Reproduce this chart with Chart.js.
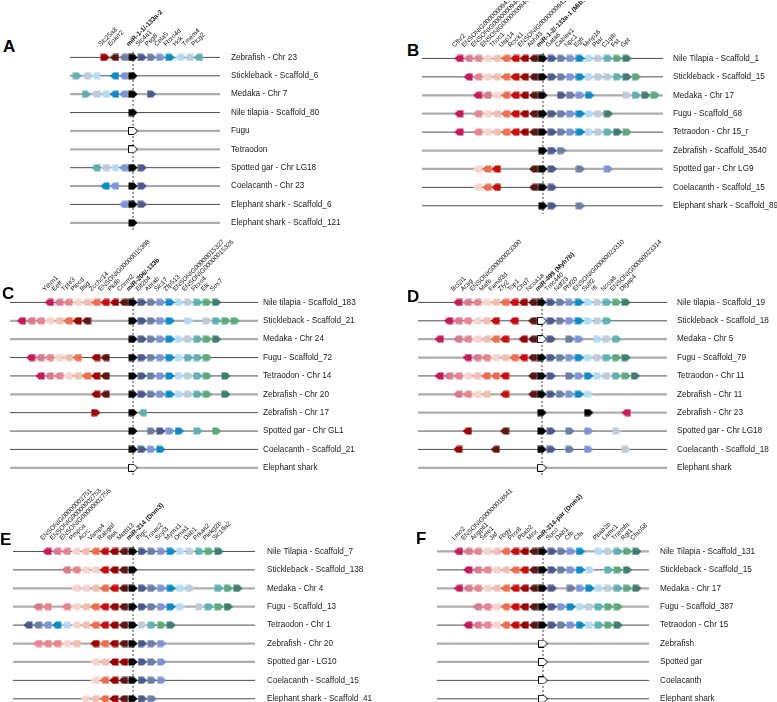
<!DOCTYPE html>
<html><head><meta charset="utf-8">
<script src="https://cdn.jsdelivr.net/npm/chart.js@4.4.1/dist/chart.umd.min.js"></script>
<style>
html,body{margin:0;padding:0;background:#fff}
body{width:777px;height:702px;overflow:hidden;position:relative;font-family:"Liberation Sans",Arial,Helvetica,sans-serif}
canvas{position:absolute}
.letter{position:absolute;font-weight:bold;font-size:17px;line-height:17px;color:#000}
</style></head><body>
<script>
// ---------------- DATA ----------------
// gene tokens: "<slot><colour>"  lowercase = arrow points right, uppercase = arrow points left
// colours a..i = left-side (red) genes, j..r = right-side (blue/green) genes, x = miRNA host (black), w = missing (white)
const speciesA = ["Zebrafish - Chr 23","Stickleback - Scaffold_6","Medaka - Chr 7","Nile tilapia - Scaffold_80","Fugu","Tetraodon","Spotted gar - Chr LG18","Coelacanth - Chr 23","Elephant shark - Scaffold_6","Elephant shark - Scaffold_121"];
const backboneA = "ddldlldddl";
const namesA = ["Slc25a8","Eoarr2","","miR-1-1/-133a-2","Slc4a1","Psg8","Cela5","Fbxo4d","Hck","Tmem4","Plcg2"];
const genesA = [
 "-3h -2I -1K 0x 1j 2k 3l 4m 5N 6O 7P",
 "-6p -5O -4N -2M -1L 0x",
 "-5p -4O -3N -2M -1L 0x 2j",
 "0x",
 "0w",
 "0w",
 "-4P -3O -2N -1L 0x 1j",
 "-3M -2L 0x 1j",
 "-1L 0x 1j",
 "0x"
];

const speciesB = ["Nile Tilapia - Scaffold_1","Stickleback - Scaffold_15","Medaka - Chr 17","Fugu - Scaffold_68","Tetraodon - Chr 15_r","Zebrafish - Scaffold_3540","Spotted gar - Chr LG9","Coelacanth - Scaffold_15","Elephant shark - Scaffold_89"];
const backboneB = "ddlldlldd";
const namesB = ["Cfhr2","ENSONIG00000009453","ENSONIG00000009446","ENSONIG00000009444","Thoc1","Usp14","Rock1","ENSONIG00000009411","Abhd3","miR-1-2/-133a-1 (Mib1)","Gata6","Cables1","Npc1","Egfr","Mmp16","Ptar","C1qtb","Fst","Gpt"];
const genesB = [
 "-9A -8B -7C -6D -5E -4F -3G -2H -1I 0x 1j 2k 3l 4m 5n 6o 7p 8q 9r",
 "-8A -7C -6D -5E -4F -3G -2H -1I 0x 1j 2k 3l 4m 5n 6o 7o 8p 9r 10q",
 "-7A -6B -5D -4F -3G -2H -1I 0x 2j 3k 4l 5m 9o 10p 11r 12q",
 "-9A -7C -6D -5E -4F -3G -2H -1I 0x 1j 2k 3l 4m 5n 6o 7r",
 "-9A -7C -6D -5E -4F -3G -2H -1I 0x 1j 2k 3l 4m 5n 6o 7p 8r 9q",
 "0x 1j 2k",
 "-7D -6F -5G -1I 0x 1j 4k 7l",
 "-7D -6F -5G -1I 0x 1j",
 "0x 1j 4k"
];

const speciesC = ["Nile tilapia - Scaffold_183","Stickleback - Scaffold_21","Medaka - Chr 24","Fugu - Scaffold_72","Tetraodon - Chr 14","Zebrafish - Chr 20","Zebrafish - Chr 17","Spotted gar - Chr GL1","Coelacanth - Scaffold_21","Elephant shark"];
const backboneC = "dllddldddl";
const namesC = ["Ythm1","Eeff","Tpte3","Plecd","Bsg","Zcchc14","ENSONIG00000015398","Pkdb","Cnnm2","miR-206/-133b","Eif2b4","Abrab","Slc17","Zfp513","ENSONIG00000015327","ENSONIG00000015326","Fbxo4","Elk","Sox7"];
const genesC = [
 "-9A -8B -7C -6D -5E -4F -3G -2H -1I 0x 1j 2k 3l 4m 5n 6o 7p 8q 9r",
 "-12A -11B -10C -9D -8E -7F -6H -5I 0x 1j 2k 3l 4m 6n 8o 9p 10q 11q",
 "0x 1j 2k 3l 4m 5n 6o 7p 8q 9r",
 "-11A -10B -9C -8D -7E -6F -4H -3I 0x 1j 2k 3l 4m 5n 6p 7p 8q",
 "-10A -9B -8C -7D -6E -5F -4H -3I 0x 1j 2k 3l 4m 5n 6o 7p 8q 10r",
 "-4H -3I 0x 1j 2k 3l 4m 5n 6o 7p 8q 10r",
 "-4h 0x 1P",
 "0x 2k 3j 4l 5m 7p 9q",
 "0x 1j 2l 3m",
 "0w"
];

const speciesD = ["Nile tilapia - Scaffold_19","Stickleback - Scaffold_18","Medaka - Chr 5","Fugu - Scaffold_79","Tetraodon - Chr 11","Zebrafish - Chr 11","Zebrafish - Chr 23","Spotted gar - Chr LG18","Coelacanth - Scaffold_18","Elephant shark"];
const backboneD = "ddlldllddl";
const namesD = ["Bcl2l1","Acsg","ENSONIG00000023300","Mafb","Fam83d","Zfy2","Top1","Chd7","Ncoa1a","miR-499 (Myh7b)","Tmc440","Ndf23","Phf20","ENSONIG00000023310","Sulf2","Ift","Ncoa6","ENSONIG00000023314","Dlgap4"];
const genesD = [
 "-9A -8B -7C -6D -5E -4F -3G -2H -1I 0x 1j 2k 3l 4m 5n 6o 7p 8q 9r",
 "-10A -9B -8C -7D -6E -5G -3G -1I 0w 1j 2k 3l 4m 5n 6o 7p",
 "-11A -9B -8C -7D -6E -5F -4G -2H -1I 0w 1j 3k 4l 6n 7o 8p",
 "-8A -7B -6C -5D -4E -3F -2G -1I 0x 1j 2k 3l 4m 5n 6o 7p 8q 9r",
 "-11A -10B -9C -8D -7E -6F -5F -4G -1I 0x 1j 3k 4l 5m 6n 7o 8p 9q 10r",
 "-9B -8C -7D -6E -4G -1I 0x 1j 2k 3l 4m 5n",
 "0x 5x 9A",
 "-8H -4I 0x 1j 3k 5l 8o",
 "-9H -5I 0x 1j 3k 5l 9o",
 "0w"
];

const speciesE = ["Nile Tilapia - Scaffold_7","Stickleback - Scaffold_138","Medaka - Chr 4","Fugu - Scaffold_13","Tetraodon - Chr 1","Zebrafish - Chr 20","Spotted gar - LG10","Coelacanth - Scaffold_15","Elephant shark - Scaffold_41"];
const backboneE = "ddlldlldd";
const namesE = ["ENSONIG00000002751","ENSONIG00000002753","ENSONIG00000002756","Pmpca","Acrc","Vamp4","Rabgaf","Bsa","Mettl13","miR-214 (Dnm3)","Pigc","Tnnac2","Scyl3","Mymx1","Oma1","Dab1","Prkaa2","Plekg2b","Slc19a2"];
const genesE = [
 "-9A -8B -7C -6D -5E -4F -3G -2H -1I 0x 1j 2k 3l 4m 5n 6o 7p 8q 9r",
 "-7B -6C -5D -4D -3G -2H -1I 0x",
 "-6D -5D -4E -3F -2G -1I 0x 1j 2k 3l 4m 5n 6o 9p 10q 11r",
 "-10B -9C -7C -6D -5E -4F -3G -2H -1I 0x 1j 2k 3l 4m 5n 7o 8p 9q 10r",
 "-11J -10K -9L -8M -7N -6D -5E -4F -3G -2H -1I 0x 1o 2p 3q 4r",
 "-10C -9C -8C -7D -6E -4H -3F -2H -1I 0x 1j 2k 3l",
 "-4D -3E -2H -1H 0x 1j 2k 3l",
 "-4D -3F -2H -1I 0x 1j 2k 3l",
 "-5D -4E -3F -2H -1I 0x 1j 2k"
];

const speciesF = ["Nile Tilapia - Scaffold_131","Stickleback - Scaffold_15","Medaka - Chr 17","Fugu - Scaffold_387","Tetraodon - Chr 15","Zebrafish","Spotted gar","Coelacanth","Elephant shark"];
const backboneF = "ldlldlldd";
const namesF = ["Lmo2","ENSONIG00000018641","Angptl1","Sele1","Jaf","Fbgy","Prrx8","Pbab2","Mnx","miR-214-par (Dnm3)","Suco","Dab1","Cfb","Cfa","Pbab2b","Lamc1","Tnemfa","Rgl1","Cfan58"];
const genesF = [
 "-9A -8B -7C -6D -5E -4F -3G -2H -1I 0x 1j 2k 3l 4m 6n 7o 8p 9q 10r",
 "-8A -7B -6C -5D -4E -3F -2G -1I 0x 1j 2k 3l 4m 5n 7p 8q 9r",
 "-9A -8B -7C -6D -5E -4F -3G -2H -1I 0x 1j 3k 4l 5m 6n 7o 8p 9q 10r",
 "-7B -6C -5D -4F -3G -2H -1I 0x 1j 2l 3m 4n 5o 6p 7q 8q",
 "-8A -7B -6C -5D -4F -3G -2H -1I 0x 1j 2k 3l 4m 5n 6p 7q 8r",
 "0w","0w","0w","0w"
];

// ---------------- STYLE / LAYOUT ----------------
const FONT = '"Liberation Sans", Arial, Helvetica, sans-serif';
const COLORS = {a:'#c8185a', b:'#d87a8c', c:'#e8848e', d:'#f6d3cc', e:'#f1bfb2', f:'#ef6d4e', g:'#cc0a0a', h:'#9c0000', i:'#5c1612',
  j:'#4b5a8a', k:'#6b7ea3', l:'#7c94d6', m:'#0a8bc6', n:'#b2dcf1', o:'#bdccd9', p:'#5fb0b3', q:'#5ca97b', r:'#3e7d6f', x:'#000000', w:'#ffffff'};
const RS = 18.4;   // row spacing px
const RW = 150;    // right label area
const panels = [
 {id:'A', species:speciesA, genes:genesA, backbone:backboneA, names:namesA, geo:{center:133, start:70, end:220, px:9.3, row0:57.5, gap:11, H:51, lx:3, ly:38}},
 {id:'B', species:speciesB, genes:genesB, backbone:backboneB, names:namesB, geo:{center:543, start:422, end:663, px:9.35, row0:58, gap:10, H:51, lx:407, ly:42}},
 {id:'C', species:speciesC, genes:genesC, backbone:backboneC, names:namesC, geo:{center:133, start:10, end:258, px:9.3, row0:302, gap:5, H:80, lx:2, ly:285}},
 {id:'D', species:speciesD, genes:genesD, backbone:backboneD, names:namesD, geo:{center:542, start:418, end:667, px:9.35, row0:302, gap:10, H:80, lx:407, ly:288}},
 {id:'E', species:speciesE, genes:genesE, backbone:backboneE, names:namesE, geo:{center:133, start:13, end:255, px:9.55, row0:551, gap:12, H:80, lx:0, ly:531}},
 {id:'F', species:speciesF, genes:genesF, backbone:backboneF, names:namesF, geo:{center:543, start:437, end:649, px:9.4, row0:551, gap:11, H:80, lx:416, ly:530}}
];

// ---------------- MARKERS ----------------
const markerCache = {};
function marker(c, d) {
  const key = c + d;
  if (markerCache[key]) return markerCache[key];
  const cv = document.createElement('canvas');
  cv.width = 10; cv.height = 8;
  const g = cv.getContext('2d');
  g.beginPath();
  if (d === 'R') { g.moveTo(0.5,0.5); g.lineTo(6,0.5); g.lineTo(9.5,4); g.lineTo(6,7.5); g.lineTo(0.5,7.5); }
  else { g.moveTo(9.5,0.5); g.lineTo(4,0.5); g.lineTo(0.5,4); g.lineTo(4,7.5); g.lineTo(9.5,7.5); }
  g.closePath();
  g.fillStyle = COLORS[c]; g.fill();
  if (c === 'w') { g.strokeStyle = '#000'; g.lineWidth = 1; g.stroke(); }
  markerCache[key] = cv;
  return cv;
}
function parseRow(str, row) {
  return str.trim().split(/\s+/).map(t => {
    const m = t.match(/^(-?\d+)([a-zA-Z])$/);
    const ch = m[2];
    return {x: +m[1], y: row, c: ch.toLowerCase(), d: ch === ch.toUpperCase() ? 'L' : 'R'};
  });
}

// ---------------- BUILD ----------------
panels.forEach(p => {
  const geo = p.geo;
  const n = p.species.length;
  const xmin = (geo.start - geo.center) / geo.px, xmax = (geo.end - geo.center) / geo.px;
  const ymin = -0.35, ymax = n - 0.5;
  const areaH = (ymax - ymin) * RS;
  const W = Math.round(geo.end - geo.start + RW);
  const Hc = Math.round(geo.H + areaH);
  const cv = document.createElement('canvas');
  cv.width = W; cv.height = Hc;
  cv.style.width = W + 'px'; cv.style.height = Hc + 'px';
  cv.style.left = geo.start + 'px';
  cv.style.top = (geo.row0 + ymin * RS - geo.H) + 'px';
  document.body.appendChild(cv);

  const lt = document.createElement('div');
  lt.className = 'letter'; lt.textContent = p.id;
  lt.style.left = geo.lx + 'px'; lt.style.top = geo.ly + 'px';
  document.body.appendChild(lt);

  const geneData = p.genes.flatMap((s, i) => parseRow(s, i));
  const topSlots = parseRow(p.genes[0], 0).map(g => g.x);

  const datasets = [
    {data: geneData, pointStyle: ctx => { const r = ctx.raw; return r ? marker(r.c, r.d) : 'circle'; }, pointRadius: 5, order: 0},
    {data: [{x:0, y:-0.3}, {x:0, y:n - 1 + 0.45}], showLine: true, borderColor: '#3a3a3a', borderWidth: 1, borderDash: [2, 2], pointRadius: 0, order: 1}
  ];
  p.backbone.split('').forEach((s, i) => {
    datasets.push({data: [{x:xmin, y:i}, {x:xmax, y:i}], showLine: true,
      borderColor: s === 'd' ? '#4d4d4d' : '#adadad', borderWidth: s === 'd' ? 1 : 2.2, pointRadius: 0, order: 2});
  });

  new Chart(cv, {
    type: 'scatter',
    data: {datasets},
    options: {
      responsive: false, animation: false, devicePixelRatio: 1, events: [],
      layout: {padding: 0, autoPadding: false},
      plugins: {legend: {display: false}, tooltip: {enabled: false}},
      scales: {
        x: {type: 'linear', position: 'top', min: xmin, max: xmax, bounds: 'data',
          grid: {display: false, drawTicks: false}, border: {display: false},
          afterBuildTicks: ax => { ax.ticks = topSlots.map(v => ({value: v})); },
          afterFit: ax => { ax.height = geo.H; ax.paddingLeft = 0; ax.paddingRight = 0; },
          ticks: {autoSkip: false, minRotation: 45, maxRotation: 45, padding: 3, color: '#111',
            font: ctx => ({family: FONT, size: 6.5, weight: (ctx.tick && ctx.tick.value === 0) ? 'bold' : 'normal'}),
            callback: (v, i) => p.names[i] || ''}
        },
        y: {type: 'linear', position: 'right', reverse: true, min: ymin, max: ymax,
          grid: {display: false, drawTicks: false}, border: {display: false},
          afterBuildTicks: ax => { ax.ticks = p.species.map((_, i) => ({value: i})); },
          afterFit: ax => { ax.width = RW; ax.paddingTop = 0; ax.paddingBottom = 0; },
          ticks: {autoSkip: false, padding: geo.gap, color: '#222', font: {family: FONT, size: 8.2},
            callback: (v, i) => p.species[i]}
        }
      }
    }
  });
});
</script>
</body></html>
